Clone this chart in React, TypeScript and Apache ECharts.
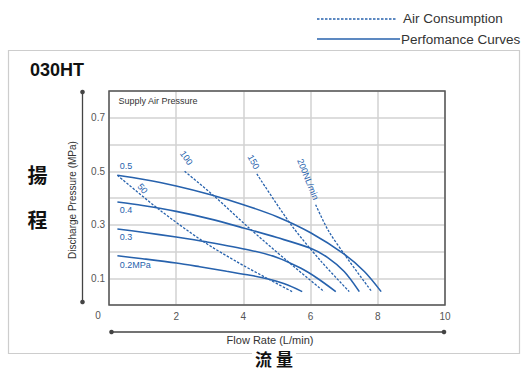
import React, { useEffect, useRef } from 'react';
import * as echarts from 'echarts';

// Performance curves (supply air pressure), [flow L/min, discharge MPa]
const perfNames = ['0.5', '0.4', '0.3', '0.2MPa'];
const perf05: number[][] = [[0.25, 0.485], [1, 0.47], [2, 0.445], [3, 0.413], [4, 0.375], [5, 0.33], [6, 0.27], [7, 0.19], [7.6, 0.125], [8.1, 0.05]];
const perf04: number[][] = [[0.25, 0.385], [1, 0.372], [2, 0.35], [3, 0.322], [4, 0.288], [5, 0.252], [6, 0.212], [6.5, 0.178], [7, 0.125], [7.45, 0.05]];
const perf03: number[][] = [[0.25, 0.284], [1, 0.272], [2, 0.254], [2.9, 0.236], [4.2, 0.205], [5, 0.178], [5.7, 0.138], [6.2, 0.1], [6.75, 0.05]];
const perf02: number[][] = [[0.25, 0.184], [1, 0.173], [2, 0.157], [2.7, 0.143], [3.5, 0.126], [4.2, 0.111], [4.7, 0.098], [5.2, 0.08], [5.75, 0.05]];

// Air consumption lines
const airNames = ['50', '100', '150', '200NL/min'];
const air50: number[][] = [[0.25, 0.485], [1.5, 0.356], [2.8, 0.238], [3.8, 0.162], [4.7, 0.1], [5.45, 0.05]];
const air100: number[][] = [[2.25, 0.5], [3.15, 0.405], [4.15, 0.29], [5.3, 0.165], [6.4, 0.05]];
const air150: number[][] = [[4.4, 0.49], [5.42, 0.3], [6.3, 0.165], [7.15, 0.05]];
const air200: number[][] = [[6.15, 0.375], [6.52, 0.28], [7.02, 0.187], [7.82, 0.05]];

const xTicks = [0, 2, 4, 6, 8, 10];
const yTicks = [0.1, 0.3, 0.5, 0.7];

const BLUE = '#2762ad';
const FONT = '"Liberation Sans", Arial, sans-serif';
const CJK = '"Noto Sans CJK TC", sans-serif';

export default function App() {
  const ref = useRef<HTMLDivElement>(null);
  useEffect(() => {
    const chart = echarts.init(ref.current!, null, { renderer: 'svg' });
    const perf = [perf05, perf04, perf03, perf02];
    const air = [air50, air100, air150, air200];
    const series: any[] = [];
    perf.forEach((d, i) => series.push({
      name: perfNames[i], type: 'line', data: d, smooth: 0.3, showSymbol: false, symbol: 'none',
      lineStyle: { color: BLUE, width: 1.6 }, z: 3,
    }));
    air.forEach((d, i) => series.push({
      name: airNames[i], type: 'line', data: d, smooth: 0.3, showSymbol: false, symbol: 'none',
      lineStyle: { color: BLUE, width: 1.3, type: [2.5, 1.5] }, z: 2,
    }));
    chart.setOption({
      animation: false,
      backgroundColor: '#fff',
      grid: { left: 109, right: 85, top: 91, bottom: 66, show: true, borderColor: '#555', borderWidth: 1.5, backgroundColor: 'transparent', z: 1 },
      xAxis: {
        type: 'value', min: 0, max: 10, interval: 2,
        axisLine: { show: false }, axisTick: { show: false },
        splitLine: { show: true, lineStyle: { color: '#d2d2d2', width: 1.5 } },
        axisLabel: { margin: 6, fontSize: 10, color: '#555', fontFamily: FONT,
          formatter: (v: number) => (xTicks.indexOf(v) > 0 ? String(v) : '') },
      },
      yAxis: {
        type: 'value', min: 0, max: 0.8, interval: 0.1,
        axisLine: { show: false }, axisTick: { show: false },
        splitLine: { show: true, lineStyle: { color: '#d2d2d2', width: 1.5 } },
        axisLabel: { margin: 4, fontSize: 10, color: '#555', fontFamily: FONT,
          formatter: (v: number) => (yTicks.some((t) => Math.abs(t - v) < 1e-6) ? v.toFixed(1) : '') },
      },
      series,
    });

    const px = (x: number, y: number) => chart.convertToPixel({ gridIndex: 0 }, [x, y]) as number[];
    const x0 = px(0, 0);
    const x10 = px(10, 0);
    const y8 = px(0, 0.8);

    const seriesLabel = (text: string, x: number, y: number, rot: number, align = 'center') => {
      const p = px(x, y);
      return {
        type: 'text', x: p[0], y: p[1], rotation: (rot * Math.PI) / 180, z: 10,
        style: { text, fill: BLUE, font: `9px ${FONT}`, align, verticalAlign: 'middle' },
      };
    };

    const graphic: any[] = [
      // outer box
      { type: 'rect', shape: { x: 8.5, y: 50.5, width: 511, height: 303 }, style: { fill: 'none', stroke: '#cdcdcd', lineWidth: 1.2 }, z: 0 },
      // legend
      { type: 'line', shape: { x1: 317, y1: 19, x2: 397, y2: 19 }, style: { stroke: BLUE, lineWidth: 1.5, lineDash: [2.5, 1.5] } },
      { type: 'text', x: 403, y: 18.5, style: { text: 'Air Consumption', fill: '#333', font: `13.5px ${FONT}`, verticalAlign: 'middle' } },
      { type: 'line', shape: { x1: 317, y1: 39, x2: 400, y2: 39 }, style: { stroke: BLUE, lineWidth: 1.6 } },
      { type: 'text', x: 401, y: 39, style: { text: 'Perfomance Curves', fill: '#333', font: `13.5px ${FONT}`, verticalAlign: 'middle' } },
      // title
      { type: 'text', x: 30, y: 70, style: { text: '030HT', fill: '#111', font: `bold 18px ${FONT}`, verticalAlign: 'middle' } },
      // CJK labels
      { type: 'text', x: 37.5, y: 174, style: { text: '揚', fill: '#111', font: `bold 20px ${CJK}`, align: 'center', verticalAlign: 'middle' } },
      { type: 'text', x: 37.5, y: 219, style: { text: '程', fill: '#111', font: `bold 20px ${CJK}`, align: 'center', verticalAlign: 'middle' } },
      { type: 'text', x: 274, y: 358, z: 5, style: { text: '流 量', fill: '#111', font: `bold 17px ${CJK}`, align: 'center', verticalAlign: 'middle', backgroundColor: '#fff', padding: [0, 3] } },
      // y decorative axis
      { type: 'line', shape: { x1: 82.5, y1: y8[1] + 1, x2: 82.5, y2: x0[1] - 3 }, style: { stroke: '#444', lineWidth: 1.3 } },
      { type: 'circle', shape: { cx: 82.5, cy: y8[1] + 1, r: 2.3 }, style: { fill: '#444' } },
      { type: 'circle', shape: { cx: 82.5, cy: x0[1] - 3, r: 2.3 }, style: { fill: '#444' } },
      { type: 'text', x: 72.5, y: 200, rotation: Math.PI / 2, style: { text: 'Discharge Pressure (MPa)', fill: '#333', font: `10px ${FONT}`, align: 'center', verticalAlign: 'middle' } },
      // x decorative axis
      { type: 'line', shape: { x1: x0[0] + 2.5, y1: 332, x2: x10[0] - 1, y2: 332 }, style: { stroke: '#444', lineWidth: 1.3 } },
      { type: 'circle', shape: { cx: x0[0] + 2.5, cy: 332, r: 2.3 }, style: { fill: '#444' } },
      { type: 'circle', shape: { cx: x10[0] - 1, cy: 332, r: 2.3 }, style: { fill: '#444' } },
      { type: 'text', x: 270, y: 340, style: { text: 'Flow Rate (L/min)', fill: '#333', font: `11px ${FONT}`, align: 'center', verticalAlign: 'middle' } },
      // origin label
      { type: 'text', x: 98, y: 315, style: { text: String(xTicks[0]), fill: '#555', font: `10px ${FONT}`, align: 'center', verticalAlign: 'middle' } },
      // supply air pressure
      (() => { const p = px(0.28, 0.762); return { type: 'text', x: p[0], y: p[1], style: { text: 'Supply Air Pressure', fill: '#333', font: `9px ${FONT}`, verticalAlign: 'middle' } }; })(),
      // series labels
      seriesLabel(perfNames[0], 0.32, 0.52, 0, 'left'),
      seriesLabel(perfNames[1], 0.32, 0.355, 0, 'left'),
      seriesLabel(perfNames[2], 0.32, 0.255, 0, 'left'),
      seriesLabel(perfNames[3], 0.32, 0.151, 0, 'left'),
      seriesLabel(airNames[0], 1.0, 0.435, -50),
      seriesLabel(airNames[1], 2.3, 0.55, -55),
      seriesLabel(airNames[2], 4.3, 0.535, -62),
      seriesLabel(airNames[3], 5.92, 0.47, -68),
    ];
    chart.setOption({ graphic });
    return () => chart.dispose();
  }, []);
  return <div ref={ref} style={{ position: 'absolute', left: 0, top: 0, width: 530, height: 371, background: '#fff' }} />;
}
